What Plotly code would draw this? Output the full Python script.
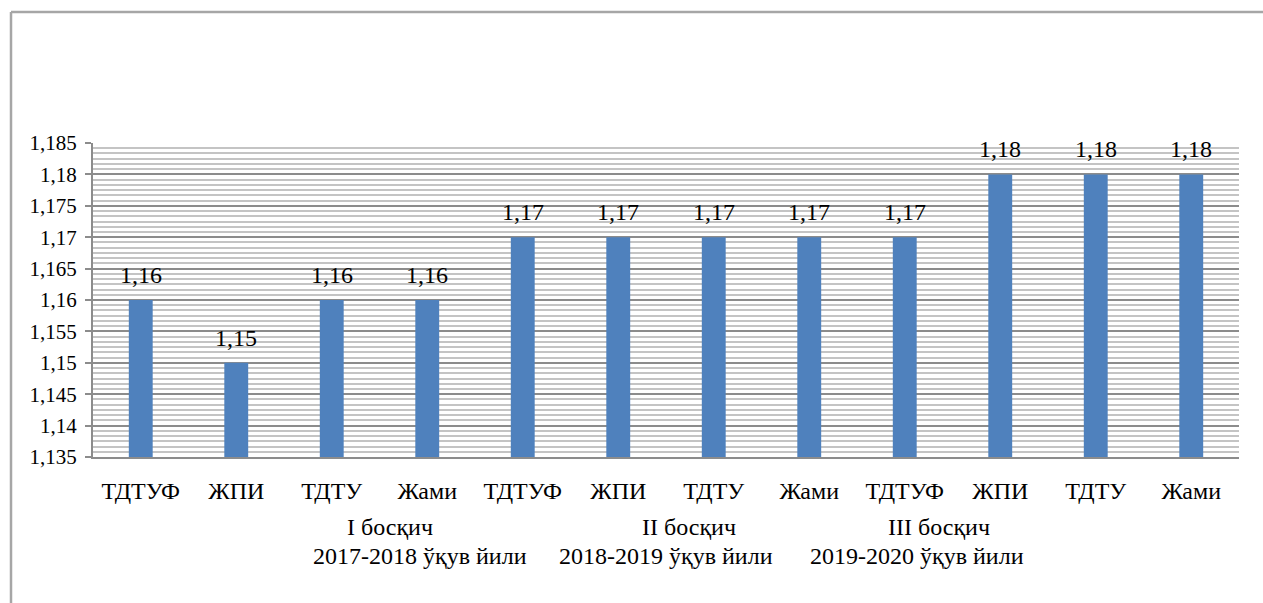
import plotly.graph_objects as go

categories = ["ТДТУФ", "ЖПИ", "ТДТУ", "Жами",
              "ТДТУФ", "ЖПИ", "ТДТУ", "Жами",
              "ТДТУФ", "ЖПИ", "ТДТУ", "Жами"]
values = [1.16, 1.15, 1.16, 1.16,
          1.17, 1.17, 1.17, 1.17,
          1.17, 1.18, 1.18, 1.18]
y_ticks = [1.135, 1.14, 1.145, 1.15, 1.155, 1.16, 1.165, 1.17, 1.175, 1.18, 1.185]
y_ticktext = ["1,135", "1,14", "1,145", "1,15", "1,155", "1,16", "1,165", "1,17", "1,175", "1,18", "1,185"]
stage_labels = ["I босқич", "II босқич", "III босқич"]
year_labels = ["2017-2018 ўқув йили", "2018-2019 ўқув йили", "2019-2020 ўқув йили"]
stage_x = [2.61, 5.74, 8.36]
year_x = [2.92, 5.50, 8.13]

FONT = "Liberation Serif"
x_idx = list(range(len(categories)))

fig = go.Figure()
fig.add_trace(go.Bar(
    x=x_idx, y=values, width=0.25,
    marker=dict(color="#4F81BD", line=dict(width=0)),
    hoverinfo="skip",
))

annotations = []
for xi, v in zip(x_idx, values):
    annotations.append(dict(
        x=xi, y=v, xref="x", yref="y", text=f"{v:.2f}".replace(".", ","),
        showarrow=False, yanchor="bottom", yshift=10,
        font=dict(family=FONT, size=24, color="black"),
    ))

L, R, T, B = 93, 1239, 143, 457
W, H = 1263, 603
pw, ph = R - L, B - T

def px_x(p):
    return (p - L) / pw

def px_y(p):
    return (B - p) / ph

for sx, s in zip(stage_x, stage_labels):
    annotations.append(dict(
        x=sx, y=px_y(527), xref="x", yref="paper", text=s,
        showarrow=False, yanchor="middle", xanchor="center",
        font=dict(family=FONT, size=24, color="black"),
    ))
for yx, s in zip(year_x, year_labels):
    annotations.append(dict(
        x=yx, y=px_y(556), xref="x", yref="paper", text=s,
        showarrow=False, yanchor="middle", xanchor="center",
        font=dict(family=FONT, size=24, color="black"),
    ))

shapes = [
    dict(type="line", xref="paper", yref="paper",
         x0=px_x(11), x1=px_x(1263), y0=px_y(12), y1=px_y(12),
         line=dict(color="#a6a6a6", width=2.5)),
    dict(type="line", xref="paper", yref="paper",
         x0=px_x(11), x1=px_x(11), y0=px_y(12), y1=px_y(603),
         line=dict(color="#a6a6a6", width=2.5)),
]

fig.update_layout(
    width=W, height=H,
    margin=dict(l=L, r=W - R, t=T, b=H - B, pad=0),
    paper_bgcolor="white", plot_bgcolor="white",
    showlegend=False,
    annotations=annotations,
    shapes=shapes,
    font=dict(family=FONT, color="black"),
)
fig.update_xaxes(
    range=[-0.5, len(categories) - 0.5],
    tickmode="array", tickvals=x_idx, ticktext=categories,
    tickfont=dict(family=FONT, size=24, color="black"),
    showgrid=False, zeroline=False,
    showline=True, linecolor="#8c8c8c", linewidth=2,
    ticks="", ticklabelstandoff=11,
)
fig.update_yaxes(
    range=[1.135, 1.185],
    tickmode="array", tickvals=y_ticks, ticktext=y_ticktext,
    tickfont=dict(family=FONT, size=21, color="black"),
    showgrid=True, gridcolor="#8c8c8c", gridwidth=1.5,
    minor=dict(tick0=1.135, dtick=0.005 / 6, showgrid=True,
               gridcolor="#c4c4c4", gridwidth=1.5),
    zeroline=False,
    showline=True, linecolor="#8c8c8c", linewidth=2,
    ticks="outside", ticklen=6, tickcolor="#8c8c8c", tickwidth=1.5,
    ticklabelstandoff=4,
)

fig.write_html(
    "out.html",
    config={"displayModeBar": False},
    post_script="document.body.style.margin='0';document.body.style.overflow='hidden';",
)
